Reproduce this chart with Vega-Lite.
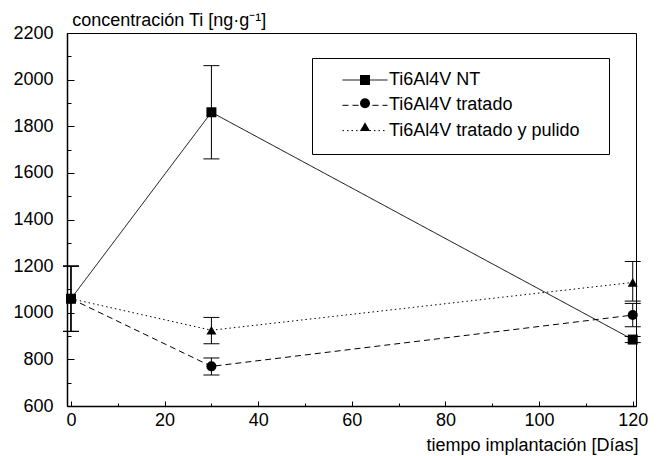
{
  "$schema": "https://vega.github.io/schema/vega-lite/v6.json",
  "width": 569,
  "height": 373,
  "autosize": {"type": "none"},
  "padding": {"left": 67, "top": 33, "right": 24, "bottom": 50},
  "background": "white",
  "config": {
    "view": {"stroke": "black", "strokeWidth": 1},
    "font": "Liberation Sans",
    "axis": {
      "grid": false,
      "domainColor": "black",
      "domainWidth": 1.5,
      "tickColor": "black",
      "tickWidth": 1,
      "labelColor": "black",
      "titleColor": "black",
      "labelFont": "Liberation Sans",
      "titleFont": "Liberation Sans",
      "labelFontSize": 18,
      "titleFontSize": 18,
      "titleFontWeight": "normal",
      "labelFlush": false
    }
  },
  "data": {
    "values": [
      {"serie": "Ti6Al4V NT", "dia": 0, "valor": 1060, "lo": 920, "hi": 1200},
      {"serie": "Ti6Al4V NT", "dia": 30, "valor": 1860, "lo": 1660, "hi": 2060},
      {"serie": "Ti6Al4V NT", "dia": 120, "valor": 885, "lo": 872, "hi": 898},
      {"serie": "Ti6Al4V tratado", "dia": 0, "valor": 1060, "lo": 920, "hi": 1200},
      {"serie": "Ti6Al4V tratado", "dia": 30, "valor": 770, "lo": 733, "hi": 806},
      {"serie": "Ti6Al4V tratado", "dia": 120, "valor": 990, "lo": 940, "hi": 1040},
      {"serie": "Ti6Al4V tratado y pulido", "dia": 0, "valor": 1060, "lo": 920, "hi": 1200},
      {"serie": "Ti6Al4V tratado y pulido", "dia": 30, "valor": 925, "lo": 867, "hi": 980},
      {"serie": "Ti6Al4V tratado y pulido", "dia": 120, "valor": 1130, "lo": 1050, "hi": 1220}
    ]
  },
  "resolve": {"axis": {"x": "independent", "y": "independent"}},
  "layer": [
    {
      "mark": {"type": "line", "color": "black", "strokeWidth": 1},
      "encoding": {
        "x": {
          "field": "dia", "type": "quantitative",
          "scale": {"domain": [-0.85, 120.7], "nice": false, "zero": false},
          "axis": {
            "orient": "bottom",
            "values": [0, 20, 40, 60, 80, 100, 120],
            "tickSize": -5,
            "labelPadding": 10,
            "title": "tiempo implantación [Días]",
            "titleAngle": 0,
            "titleX": 571,
            "titleY": 44,
            "titleAlign": "right",
            "titleBaseline": "alphabetic"
          }
        },
        "y": {
          "field": "valor", "type": "quantitative",
          "scale": {"domain": [600, 2200], "nice": false, "zero": false},
          "axis": {
            "orient": "left",
            "format": "d",
            "values": [600, 800, 1000, 1200, 1400, 1600, 1800, 2000, 2200],
            "tickSize": -7,
            "labelPadding": 21,
            "title": "concentración Ti [ng·g⁻¹]",
            "titleAngle": 0,
            "titleX": 4.7,
            "titleY": -8,
            "titleAlign": "left",
            "titleBaseline": "alphabetic"
          }
        },
        "strokeDash": {
          "field": "serie", "type": "nominal",
          "scale": {
            "domain": ["Ti6Al4V NT", "Ti6Al4V tratado", "Ti6Al4V tratado y pulido"],
            "range": [[1, 0], [6, 4], [1.5, 3]]
          },
          "legend": {
            "orient": "none",
            "legendX": 245,
            "legendY": 25,
            "title": " ",
            "titleOrient": "right",
            "titlePadding": 16,
            "symbolType": "stroke",
            "symbolSize": 2025,
            "symbolStrokeWidth": 1,
            "symbolStrokeColor": "black",
            "labelFont": "Liberation Sans",
            "labelFontSize": 18,
            "labelColor": "black",
            "labelOffset": 1,
            "labelLimit": 400,
            "padding": 14,
            "symbolOffset": 16,
            "strokeColor": "black",
            "fillColor": "white",
            "clipHeight": 16,
            "rowPadding": 7.3
          }
        }
      }
    },
    {
      "mark": {"type": "rule", "color": "black", "strokeWidth": 1},
      "encoding": {
        "x": {
          "field": "dia", "type": "quantitative",
          "axis": {"orient": "bottom", "values": [10, 30, 50, 70, 90, 110], "tickSize": -3, "labels": false, "domain": false, "title": null}
        },
        "y": {
          "field": "lo", "type": "quantitative",
          "axis": {"orient": "left", "values": [700, 900, 1100, 1300, 1500, 1700, 1900, 2100], "tickSize": -4, "labels": false, "domain": false, "title": null}
        },
        "y2": {"field": "hi"}
      }
    },
    {
      "mark": {"type": "tick", "orient": "horizontal", "color": "black", "size": 16, "thickness": 1, "opacity": 1},
      "encoding": {
        "x": {"field": "dia", "type": "quantitative", "axis": null},
        "y": {"field": "lo", "type": "quantitative", "axis": null}
      }
    },
    {
      "mark": {"type": "tick", "orient": "horizontal", "color": "black", "size": 16, "thickness": 1, "opacity": 1},
      "encoding": {
        "x": {"field": "dia", "type": "quantitative", "axis": null},
        "y": {"field": "hi", "type": "quantitative", "axis": null}
      }
    },
    {
      "mark": {"type": "point", "filled": true, "color": "black", "opacity": 1, "size": 100},
      "encoding": {
        "x": {"field": "dia", "type": "quantitative", "axis": null},
        "y": {"field": "valor", "type": "quantitative", "axis": null},
        "shape": {
          "field": "serie", "type": "nominal",
          "scale": {"range": ["square", "circle", "triangle-up"]},
          "legend": {
            "orient": "none",
            "legendX": 292,
            "legendY": 39,
            "title": null,
            "labelExpr": "''",
            "symbolFillColor": "black",
            "symbolStrokeColor": "black",
            "symbolSize": 100,
            "padding": 0,
            "clipHeight": 16,
            "rowPadding": 7.3,
            "labelOffset": 0
          }
        }
      }
    }
  ]
}
